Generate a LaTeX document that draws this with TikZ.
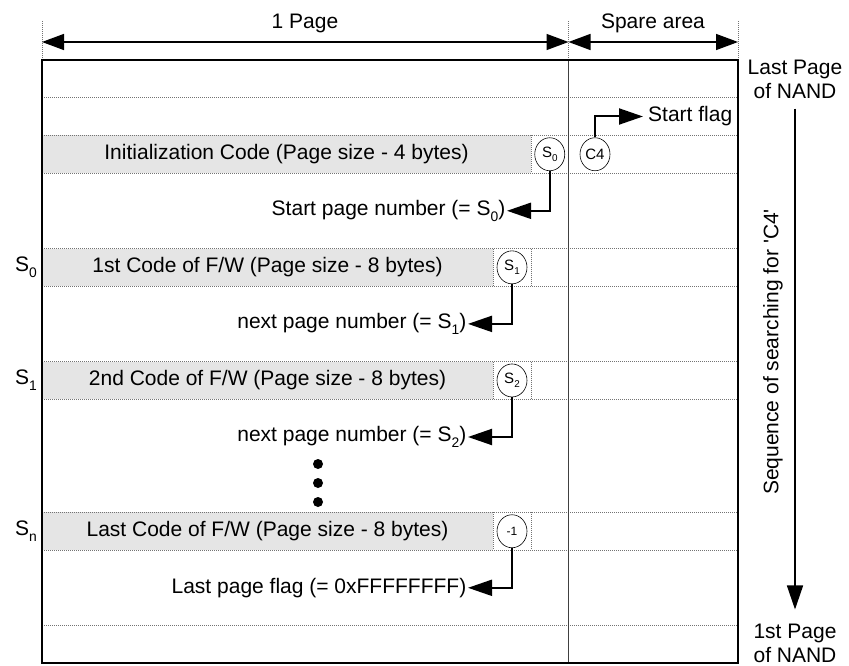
\documentclass[tikz,border=0pt]{standalone}
\usepackage{fontspec}
\setmainfont{Liberation Sans}
\usetikzlibrary{arrows.meta,shapes.geometric}
% lowered index as used in the page numbers
\newcommand\idx[1]{\raisebox{-0.3em}{\scalebox{0.66}{#1}}}

\begin{document}
\begin{tikzpicture}[x=1pt,y=-1pt,
  every node/.style={font=\fontsize{21}{24}\selectfont, inner sep=0pt},
  frame/.style={line width=2pt},
  gridline/.style={black!55, line width=1pt, densely dotted},
  codecell/.style={fill=black!10},
  marker/.style={ellipse, draw, line width=0.6pt, minimum width=30pt,
    minimum height=33pt, inner sep=0pt, font=\fontsize{15}{17}\selectfont},
  conn/.style={line width=2pt, -{Triangle[length=24pt,width=16pt]}},
  dim/.style={line width=1.5pt,
    {Triangle[length=22pt,width=16pt]}-{Triangle[length=22pt,width=16pt]}},
  label/.style={inner xsep=1.5pt}
]
\useasboundingbox (0,0) rectangle (849,666);

% shaded code areas of the pages
\fill[codecell] (42,135.4) rectangle (531,173.1);
\fill[codecell] (42,248.5) rectangle (493,286.2);
\fill[codecell] (42,361.6) rectangle (493,399.3);
\fill[codecell] (42,512.4) rectangle (493,550.1);

% page boundaries
\foreach \y in {97.7,135.4,173.1,248.5,286.2,361.6,399.3,512.4,550.1,625.5}
  \draw[gridline] (42,\y) -- (738,\y);

% cells holding the link words
\draw[gridline] (531,135.4) -- (531,173.1);
\foreach \y/\z in {248.5/286.2, 361.6/399.3, 512.4/550.1} {
  \draw[gridline] (493,\y) -- (493,\z);
  \draw[gridline] (531,\y) -- (531,\z);
}

% width ticks above the block
\draw[gridline] (42,21) -- (42,60);
\draw[gridline] (568.5,21) -- (568.5,60);
\draw[gridline] (738,21) -- (738,60);

% main / spare divider and outer frame
\draw[black!75, line width=0.8pt] (568.5,60) -- (568.5,663.2);
\draw[frame] (42,60) rectangle (738,663.2);

% width dimensions
\coordinate (pl) at (42,42);
\coordinate (pm) at (568.5,42);
\coordinate (pr) at (738,42);
\draw[dim] (pl) -- (pm);
\draw[dim] (pm) -- (pr);
\node (onepage) at (305,23) {1 Page};
\node (spare) at (653,23) {Spare area};

% page contents
\node (tinit) at (286.5,154.25) {Initialization Code (Page size - 4 bytes)};
\node (tfirst) at (267.5,267.35) {1st Code of F/W (Page size - 8 bytes)};
\node (tsecond) at (267.5,380.45) {2nd Code of F/W (Page size - 8 bytes)};
\node (tlast) at (267.5,531.25) {Last Code of F/W (Page size - 8 bytes)};

% link words
\node[marker] (s0) at (549.75,154.25) {S\idx{0}};
\node[marker] (c4) at (595,154.25) {C4};
\node[marker] (s1) at (512,267.35) {S\idx{1}};
\node[marker] (s2) at (512,380.45) {S\idx{2}};
\node[marker, font=\fontsize{12}{14}\selectfont] (sn) at (512,531.25) {-1};

% explanations of the link words
\node[inner xsep=5pt, anchor=west] (tflag) at (643,116.5) {Start flag};
\node[label, anchor=east] (tstart) at (507,210.8) {Start page number (= S\idx{0})};
\node[label, anchor=east] (tnext1) at (468,323.9) {next page number (= S\idx{1})};
\node[label, anchor=east] (tnext2) at (468,437) {next page number (= S\idx{2})};
\node[label, anchor=east] (tlastflag) at (468,587.8) {Last page flag (= 0xFFFFFFFF)};

\draw[conn] (c4.north) |- (tflag.west);
\draw[conn] (s0.south) |- (tstart.east);
\draw[conn] (s1.south) |- (tnext1.east);
\draw[conn] (s2.south) |- (tnext2.east);
\draw[conn] (sn.south) |- (tlastflag.east);

% omitted pages
\foreach \y in {464,483,502}
  \fill (318,\y) circle (5);

% page numbers on the left
\node[anchor=east] (ls0) at (37,267.35) {S\idx{0}};
\node[anchor=east] (ls1) at (37,380.45) {S\idx{1}};
\node[anchor=east] (lsn) at (37,531.25) {S\idx{n}};

% search direction
\node[align=center] (toppage) at (795,79) {Last Page\\of NAND};
\node[align=center] (botpage) at (795,643) {1st Page\\of NAND};
\draw[line width=1.5pt, -{Triangle[length=24pt,width=16pt]},
  shorten <=10pt, shorten >=14pt] (toppage.south) -- (botpage.north);
\node[rotate=90] (seq) at (773,352) {Sequence of searching for \textquotesingle C4\textquotesingle};
\end{tikzpicture}
\end{document}
